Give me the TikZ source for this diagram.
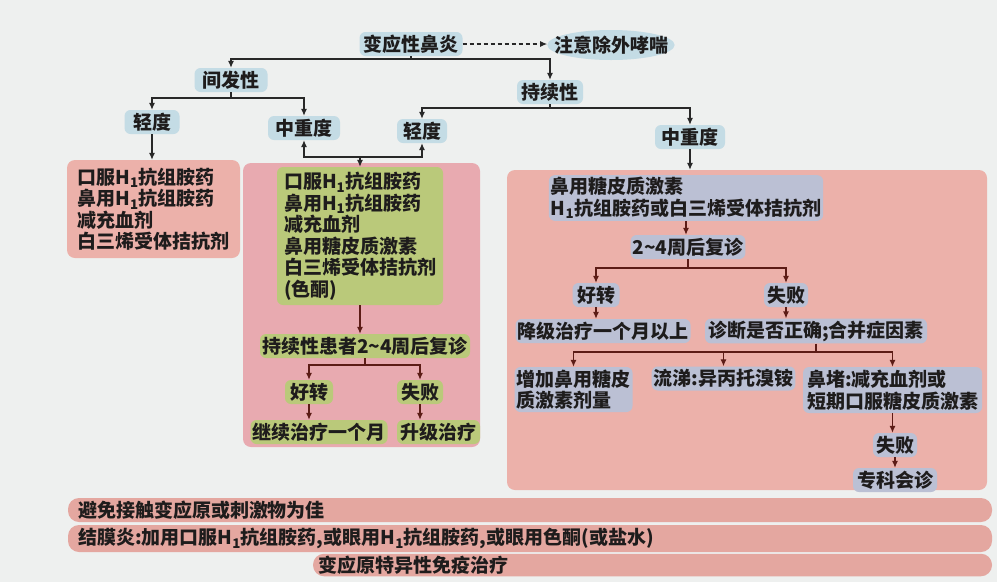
\documentclass[tikz,border=0pt]{standalone}
\usepackage{xcolor}
\usepackage{fontspec}
\setmainfont{Noto Sans CJK SC}
\usepackage{tikz}
\usetikzlibrary{shapes.geometric, arrows.meta}

\definecolor{sfondo}{RGB}{238,240,239}
\definecolor{azzurro}{RGB}{196,220,229}
\definecolor{rosa}{RGB}{236,177,170}
\definecolor{rosab}{RGB}{232,170,176}
\definecolor{barra}{RGB}{228,167,160}
\definecolor{verde}{RGB}{186,201,122}
\definecolor{grigio}{RGB}{187,192,212}
\definecolor{testo}{RGB}{30,28,28}
\definecolor{nero}{RGB}{40,40,40}
\definecolor{marrone}{RGB}{92,28,22}

\begin{document}
\begin{tikzpicture}[
		x=1pt, y=-1pt,
		every node/.style={
				rectangle, rounded corners=6pt,
				inner xsep=2pt, inner ysep=2pt,
				minimum height=24pt,
				font=\fontsize{19}{21.5}\selectfont\bfseries,
				text=testo
			},
		blu/.style={fill=azzurro},
		verdino/.style={fill=verde},
		grigino/.style={fill=grigio},
		scatola/.style={fill=#1, rounded corners=8pt},
		fascia/.style={fill=barra, rounded corners=11pt, align=left},
		linea/.style={line width=1.1pt, draw=#1},
		linea/.default=nero,
		freccia/.style={linea=#1, -{Latex[length=7pt,width=6pt]}},
		freccia/.default=nero
	]
	\fill[sfondo] (0,0) rectangle (997,582);

	% riquadri di sfondo
	\node[scatola=rosa, minimum width=173pt, minimum height=98pt, align=left] (lieve1) at (153.5,209)
	{口服H\textsubscript{1}抗组胺药\\鼻用H\textsubscript{1}抗组胺药\\减充血剂\\白三烯受体拮抗剂};
	\node[scatola=rosab, minimum width=237pt, minimum height=284pt] (mezzo) at (361.5,305) {};
	\node[scatola=rosa, minimum width=480pt, minimum height=320pt] (destra) at (747,330) {};

	% parte alta
	\node[blu, minimum width=103pt] (rinite) at (411,44) {变应性鼻炎};
	\node[blu, ellipse, inner xsep=-12pt, inner ysep=0pt, minimum height=30pt] (asma) at (611,45) {注意除外哮喘};
	\node[blu, minimum width=73pt] (inter) at (231,80) {间发性};
	\node[blu, minimum width=66pt] (pers) at (550,92) {持续性};
	\node[blu, minimum width=55pt] (qing1) at (152,122) {轻度};
	\node[blu, minimum width=72pt] (grave1) at (304,128) {中重度};
	\node[blu, minimum width=50pt] (qing2) at (422,131) {轻度};
	\node[blu, minimum width=70pt] (grave2) at (690,137) {中重度};

	% colonna centrale
	\node[verdino, minimum width=166pt, minimum height=138pt, align=left] (farmaci) at (360,236)
	{口服H\textsubscript{1}抗组胺药\\鼻用H\textsubscript{1}抗组胺药\\减充血剂\\鼻用糖皮质激素\\白三烯受体拮抗剂\\(色酮)};
	\node[verdino, minimum width=210pt] (ctrl1) at (365,346) {持续性患者2\textasciitilde 4周后复诊};
	\node[verdino, minimum width=48pt] (ok1) at (309,392) {好转};
	\node[verdino, minimum width=46pt] (ko1) at (420,392) {失败};
	\node[verdino, minimum width=132pt] (cont) at (319,432) {继续治疗一个月};
	\node[verdino, minimum width=83pt] (sale) at (438.5,432) {升级治疗};

	% colonna destra
	\node[grigino, minimum width=273pt, minimum height=45pt, align=left] (terapia) at (686,198)
	{鼻用糖皮质激素\\H\textsubscript{1}抗组胺药或白三烯受体拮抗剂};
	\node[grigino, minimum width=111pt] (ctrl2) at (688,247) {2\textasciitilde 4周后复诊};
	\node[grigino, minimum width=47pt] (ok2) at (596,295) {好转};
	\node[grigino, minimum width=44pt] (ko2) at (786,295) {失败};
	\node[grigino, minimum width=173pt] (scende) at (603,331) {降级治疗一个月以上};
	\node[grigino, minimum width=222pt] (diagn) at (816,331) {诊断是否正确;合并症因素};
	\node[grigino, minimum width=117pt, minimum height=45pt, align=left] (dose) at (573.5,389.5) {增加鼻用糖皮\\质激素剂量};
	\node[grigino, minimum width=143pt] (naso) at (723.5,378.5) {流涕:异丙托溴铵};
	\node[grigino, minimum width=179pt, minimum height=46pt, align=left] (tappo) at (892.5,390) {鼻堵:减充血剂或\\短期口服糖皮质激素};
	\node[grigino, minimum width=44pt] (ko3) at (895,445) {失败};
	\node[grigino, minimum width=84pt] (spec) at (895,480) {专科会诊};

	% fasce in basso
	\node[fascia, minimum width=924pt, text width=904pt] (evita) at (530,510) {避免接触变应原或刺激物为佳};
	\node[fascia, minimum width=924pt, minimum height=27pt, text width=904pt] (occhi) at (530,538.5)
	{结膜炎:加用口服H\textsubscript{1}抗组胺药,或眼用H\textsubscript{1}抗组胺药,或眼用色酮(或盐水)};
	\node[fascia, minimum width=679pt, minimum height=21pt, text width=669pt] (immuno) at (652.5,565) {变应原特异性免疫治疗};

	% collegamenti
	\coordinate (j0) at (411,59);
	\coordinate (j1) at (231,98);
	\coordinate (j2) at (550,108);
	\coordinate (j3) at (360,157);
	\coordinate (j4) at (365,365);
	\coordinate (j5) at (688,268);
	\coordinate (j6) at (816,352);

	\draw[freccia, dash pattern=on 4pt off 3pt] (rinite) -- (rinite -| asma.west);
	\draw[linea] (rinite) -- (j0);
	\draw[freccia] (j0) -| (inter);
	\draw[freccia] (j0) -| (pers);
	\draw[linea] (inter) -- (j1);
	\draw[freccia] (j1) -| (qing1);
	\draw[freccia] (j1) -| (grave1);
	\draw[linea] (pers) -- (j2);
	\draw[freccia] (j2) -| (qing2);
	\draw[freccia] (j2) -| (grave2);
	\draw[freccia] (qing1) -- (qing1 |- lieve1.north);
	\draw[freccia] (j3) -| (grave1);
	\draw[freccia] (j3) -| (qing2);
	\draw[freccia] (j3) -- (farmaci);
	\draw[freccia] (grave2) -- (grave2 |- destra.north);

	\draw[freccia=marrone] (farmaci) -- (farmaci |- ctrl1.north);
	\draw[linea=marrone] (ctrl1) -- (j4);
	\draw[freccia=marrone] (j4) -| (ok1);
	\draw[freccia=marrone] (j4) -| (ko1);
	\draw[freccia=marrone] (ok1) -- (ok1 |- cont.north);
	\draw[freccia=marrone] (ko1) -- (ko1 |- sale.north);

	\draw[freccia=marrone] (terapia) -- (terapia |- ctrl2.north);
	\draw[linea=marrone] (ctrl2) -- (j5);
	\draw[freccia=marrone] (j5) -| (ok2);
	\draw[freccia=marrone] (j5) -| (ko2);
	\draw[freccia=marrone] (ok2) -- (ok2 |- scende.north);
	\draw[freccia=marrone] (ko2) -- (ko2 |- diagn.north);
	\draw[linea=marrone] (diagn) -- (j6);
	\draw[freccia=marrone] (j6) -| (dose);
	\draw[freccia=marrone] (j6) -| (naso);
	\draw[freccia=marrone] (j6) -| (tappo);
	\draw[freccia=marrone] (tappo) -- (tappo |- ko3.north);
	\draw[freccia=marrone] (ko3) -- (spec);
\end{tikzpicture}
\end{document}
